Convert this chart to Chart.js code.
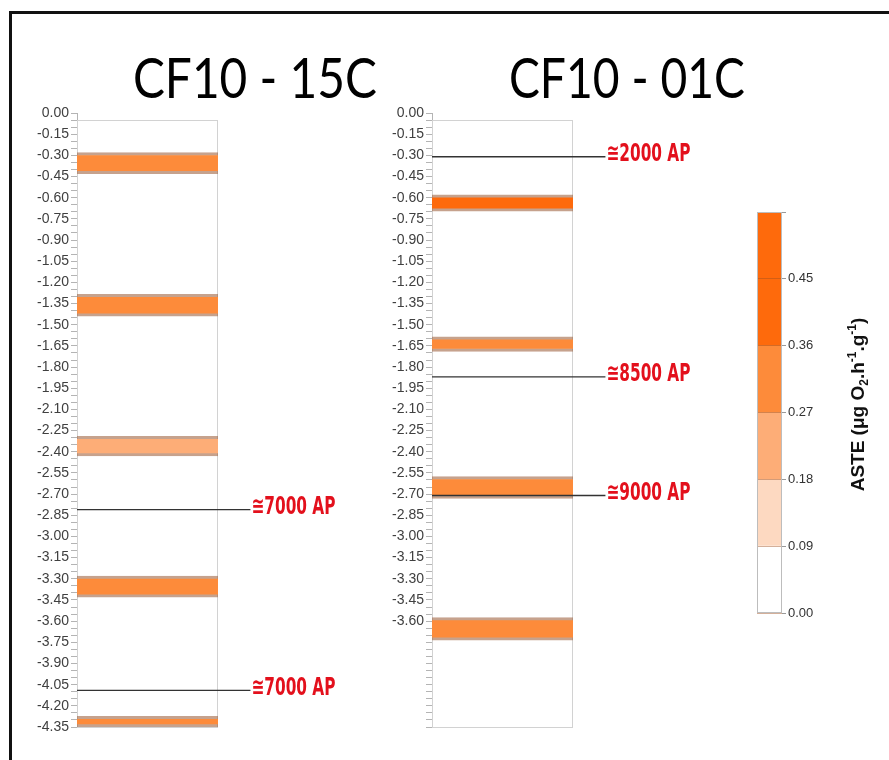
<!DOCTYPE html>
<html>
<head>
<meta charset="utf-8">
<script src="https://cdn.jsdelivr.net/npm/chart.js@4.4.0/dist/chart.umd.min.js"></script>
<style>
    body { margin: 0; background: #fff; }
    #page { position: relative; width: 889px; height: 760px; overflow: hidden; background: #fff; }
    #frame { position: absolute; left: 9px; top: 11px; width: 1000px; height: 1000px;
             border-left: 3px solid #111; border-top: 3px solid #111; }
    .title { position: absolute; top: 49px; font-family: Lato, 'Open Sans', sans-serif; font-size: 56px;
             line-height: 56px; white-space: nowrap; color: #000; transform-origin: 50% 50%; }
    canvas { position: absolute; }
</style>
</head>
<body>
<div id="page">
    <div id="frame"></div>
    <div class="title" id="titleLeft" data-cx="255" data-w="244">CF10 - 15C</div>
    <div class="title" id="titleRight" data-cx="627" data-w="236">CF10 - 01C</div>
    <canvas id="colLeft" width="360" height="650" style="left:0px;top:95px"></canvas>
    <canvas id="colRight" width="360" height="650" style="left:355px;top:95px"></canvas>
    <canvas id="scaleBar" width="149" height="450" style="left:740px;top:190px"></canvas>
</div>
<script>
// depth axis (m)
const depthMin = -4.35;
const depthMax = 0;
const depthStep = 0.05;
const boxTop = -0.05;

// CF10 - 15C
const leftBandTop = [-0.28, -1.285, -2.29, -3.28, -4.275];
const leftBandBottom = [-0.43, -1.44, -2.43, -3.43, -4.35];
const leftBandAste = [0.31, 0.31, 0.22, 0.31, 0.31];
const leftMarkDepth = [-2.81, -4.09];
const leftMarkLabel = ['≅7000 AP', '≅7000 AP'];

// CF10 - 01C
const rightBandTop = [-0.58, -1.585, -2.575, -3.575];
const rightBandBottom = [-0.695, -1.69, -2.73, -3.735];
const rightBandAste = [0.40, 0.31, 0.31, 0.31];
const rightMarkDepth = [-0.31, -1.87, -2.71];
const rightMarkLabel = ['≅2000 AP', '≅8500 AP', '≅9000 AP'];

// ASTE colour classes
const asteBreaks = [0, 0.09, 0.18, 0.27, 0.36, 0.45, 0.54];
const asteColors = ['#ffffff', '#fdd9c1', '#fdad77', '#fd8b3a', '#fe6a0c', '#fe6a0c'];
const asteLabelMax = 0.45;

const tickFont = { family: "'Liberation Sans', Arial, sans-serif", size: 14 };

const classColor = (v) => {
    for (let i = 0; i < asteColors.length; i++) {
        if (v >= asteBreaks[i] && v < asteBreaks[i + 1]) return asteColors[i];
    }
    return asteColors[asteColors.length - 1];
};

// titles: centre and squeeze to the width seen in the reference
document.querySelectorAll('.title').forEach(el => {
    const w = el.getBoundingClientRect().width;
    const sx = +el.dataset.w / w;
    el.style.left = (+el.dataset.cx - w / 2) + 'px';
    el.style.transform = `scaleX(${sx})`;
});

const lineEnd = 1.23;

const boxPlugin = {
    id: 'box',
    beforeDatasetsDraw(chart) {
        const { ctx, chartArea } = chart;
        const y = chart.scales.y;
        ctx.save();
        ctx.strokeStyle = '#d2d2d2';
        ctx.lineWidth = 1;
        const top = Math.round(y.getPixelForValue(boxTop)) + 0.5;
        const bot = Math.round(y.getPixelForValue(depthMin)) + 0.5;
        ctx.strokeRect(chartArea.left + 0.5, top, chartArea.right - chartArea.left - 1, bot - top);
        ctx.restore();
    }
};

const markerLabels = {
    id: 'markerLabels',
    afterDatasetsDraw(chart, args, opts) {
        const { ctx } = chart;
        const x2 = chart.scales.x2;
        const y = chart.scales.y;
        ctx.save();
        ctx.fillStyle = '#e3101c';
        ctx.font = "bold 24px 'DejaVu Sans Condensed', 'DejaVu Sans', sans-serif";
        ctx.textBaseline = 'middle';
        opts.depths.forEach((d, i) => {
            const px = x2.getPixelForValue(lineEnd) + 1;
            const py = y.getPixelForValue(d) - 2;
            const w = ctx.measureText(opts.labels[i]).width;
            ctx.save();
            ctx.translate(px, py);
            ctx.scale(84 / w, 1);
            ctx.fillText(opts.labels[i], 0, 0);
            ctx.restore();
        });
        ctx.restore();
    }
};

const makeColumn = (id, tops, bottoms, aste, markDepth, markLabel, lastLabel) => {
    const ctx = document.getElementById(id).getContext('2d');

    const bands = tops.map((t, i) => ({
        type: 'bar',
        data: [[bottoms[i], t]],
        backgroundColor: classColor(aste[i]),
        borderColor: 'rgba(160,100,65,0.6)',
        borderWidth: { top: 3, bottom: 3, left: 0, right: 0 },
        borderSkipped: false,
        grouped: false,
        barPercentage: 1,
        categoryPercentage: 1,
        xAxisID: 'x',
        yAxisID: 'y',
        order: 2
    }));

    const marks = markDepth.map(d => ({
        type: 'line',
        data: [{ x: 0, y: d }, { x: lineEnd, y: d }],
        borderColor: '#333',
        borderWidth: 1.3,
        pointRadius: 0,
        clip: false,
        xAxisID: 'x2',
        yAxisID: 'y',
        order: 0
    }));

    new Chart(ctx, {
        data: { labels: [''], datasets: [...bands, ...marks] },
        options: {
            responsive: false,
            animation: false,
            events: [],
            layout: { padding: { left: 20, right: 142, top: 18, bottom: 18 } },
            plugins: {
                legend: { display: false },
                tooltip: { enabled: false },
                markerLabels: { depths: markDepth, labels: markLabel }
            },
            scales: {
                x: { type: 'category', display: false, offset: true },
                x2: { type: 'linear', display: false, min: 0, max: 1 },
                y: {
                    type: 'linear',
                    min: depthMin,
                    max: depthMax,
                    afterFit: s => { s.width = 57; },
                    border: { color: '#b4b4b4' },
                    grid: { drawOnChartArea: false, tickLength: 6, tickColor: '#b4b4b4' },
                    ticks: {
                        stepSize: depthStep,
                        autoSkip: false,
                        maxTicksLimit: 200,
                        padding: 2,
                        color: '#404040',
                        font: tickFont,
                        callback: v => {
                            const k = Math.round(-v / depthStep);
                            if (k % 3 !== 0) return '';
                            if (v < lastLabel - 1e-9) return '';
                            return (Math.abs(v) < 1e-9 ? 0 : v).toFixed(2);
                        }
                    }
                }
            }
        },
        plugins: [boxPlugin, markerLabels]
    });
};

makeColumn('colLeft', leftBandTop, leftBandBottom, leftBandAste, leftMarkDepth, leftMarkLabel, depthMin);
makeColumn('colRight', rightBandTop, rightBandBottom, rightBandAste, rightMarkDepth, rightMarkLabel, -3.60);

// colour scale bar
const asteTitle = {
    id: 'asteTitle',
    afterDraw(chart) {
        const { ctx, chartArea } = chart;
        const parts = [
            { t: 'ASTE (\u03bcg O', s: 19, dy: 0 },
            { t: '2', s: 12, dy: 4 },
            { t: '.h', s: 19, dy: 0 },
            { t: '-1', s: 12, dy: -8 },
            { t: '.g', s: 19, dy: 0 },
            { t: '-1', s: 12, dy: -8 },
            { t: ')', s: 19, dy: 0 }
        ];
        const fam = "'Liberation Sans', Arial, sans-serif";
        let total = 0;
        parts.forEach(p => { ctx.font = `bold ${p.s}px ${fam}`; p.w = ctx.measureText(p.t).width; total += p.w; });
        ctx.save();
        ctx.translate(chartArea.right + 82, (chartArea.top + chartArea.bottom) / 2 - 8);
        ctx.rotate(-Math.PI / 2);
        ctx.fillStyle = '#111';
        ctx.textBaseline = 'alphabetic';
        let x = -total / 2;
        parts.forEach(p => {
            ctx.font = `bold ${p.s}px ${fam}`;
            ctx.fillText(p.t, x, p.dy);
            x += p.w;
        });
        ctx.restore();

        ctx.save();
        ctx.strokeStyle = '#bdbdbd';
        ctx.lineWidth = 1;
        ctx.strokeRect(chartArea.left + 0.5, chartArea.top + 0.5, chartArea.right - chartArea.left - 1, chartArea.bottom - chartArea.top - 1);
        ctx.restore();
    }
};

new Chart(document.getElementById('scaleBar').getContext('2d'), {
    type: 'bar',
    data: {
        labels: [''],
        datasets: asteColors.map((c, i) => ({
            data: [[asteBreaks[i], asteBreaks[i + 1]]],
            backgroundColor: c,
            borderWidth: 0,
            grouped: false,
            barPercentage: 1,
            categoryPercentage: 1
        }))
    },
    options: {
        responsive: false,
        animation: false,
        events: [],
        layout: { padding: { left: 17, right: 67, top: 22, bottom: 27 } },
        plugins: { legend: { display: false }, tooltip: { enabled: false } },
        scales: {
            x: { display: false, offset: true },
            y: {
                position: 'right',
                min: asteBreaks[0],
                max: asteBreaks[asteBreaks.length - 1],
                afterFit: s => { s.width = 40; },
                border: { display: false },
                grid: { drawOnChartArea: true, z: 1, color: 'rgba(160,80,30,0.45)', tickLength: 4, tickColor: '#999' },
                ticks: {
                    stepSize: 0.09,
                    padding: 2,
                    color: '#333',
                    font: { family: "'Liberation Sans', Arial, sans-serif", size: 13 },
                    callback: v => v > asteLabelMax + 1e-9 ? '' : v.toFixed(2)
                }
            }
        }
    },
    plugins: [asteTitle]
});
</script>
</body>
</html>
